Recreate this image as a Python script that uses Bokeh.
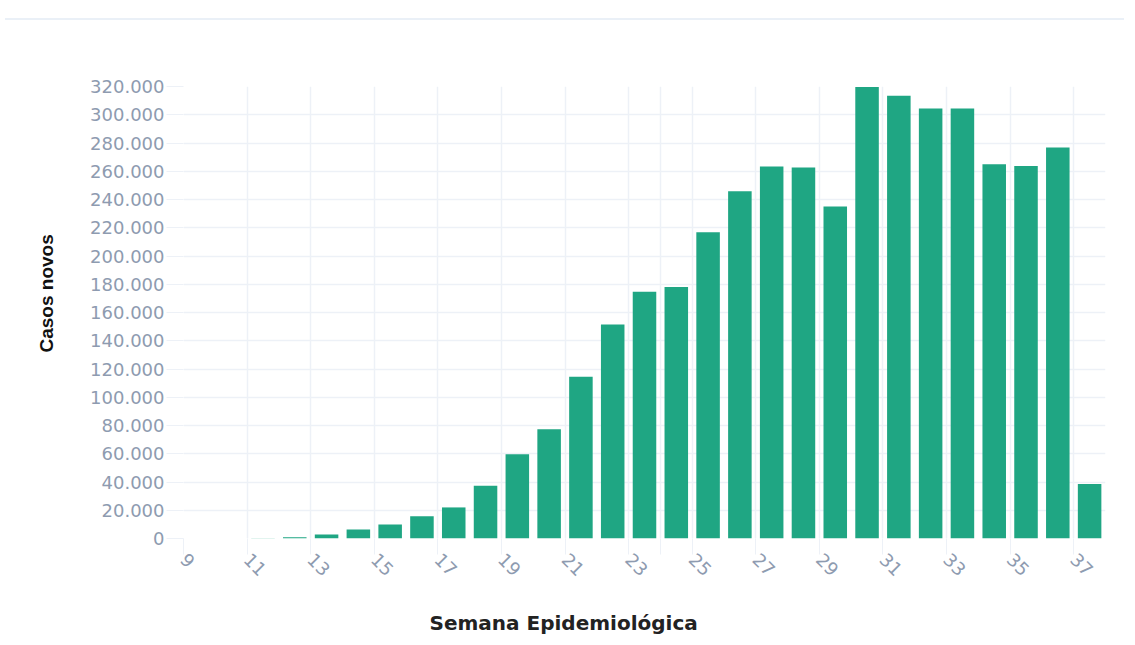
import math
from bokeh.plotting import figure
from bokeh.models import ColumnDataSource, FixedTicker, Title, Div
from bokeh.transform import dodge
from bokeh.layouts import column
from bokeh.embed import file_html
from bokeh.resources import INLINE

# ---- data ----
weeks = list(range(9, 38))
cases = [0, 0, 100, 900, 2800, 6400, 10000, 15800, 22000, 37300,
         59600, 77300, 114600, 151500, 174700, 178000, 216800, 245900,
         263300, 262600, 235000, 319600, 313500, 304500, 304500, 265000,
         263800, 276800, 38500]

x_tick_values = [9, 11, 13, 15, 17, 19, 21, 23, 24, 25, 27, 29, 31, 33, 35, 37]
x_tick_labels = ["9", "11", "13", "15", "17", "19", "21", "23", "", "25",
                 "27", "29", "31", "33", "35", "37"]
y_tick_values = [0, 20000, 40000, 60000, 80000, 100000, 120000, 140000, 160000,
                 180000, 200000, 220000, 240000, 260000, 280000, 300000, 320000]
y_tick_labels = ["0", "20.000", "40.000", "60.000", "80.000", "100.000", "120.000",
                 "140.000", "160.000", "180.000", "200.000", "220.000", "240.000",
                 "260.000", "280.000", "300.000", "320.000"]

x_title = "Semana Epidemiológica"
y_title = "Casos novos"

BAR = "#1fa683"
GRID = "#edf1f7"
TICK_TXT = "#8e9bb0"

src = ColumnDataSource(dict(week=weeks, cases=cases))

p = figure(width=1119, height=612, x_range=(9, 38), y_range=(0, 320000),
           output_backend="svg", toolbar_location=None,
           min_border_left=183, min_border_right=14,
           min_border_top=61, min_border_bottom=99)
p.outline_line_color = None
p.background_fill_color = "white"
p.border_fill_color = "white"

p.vbar(x=dodge("week", 0.5, range=p.x_range), top="cases", width=0.74,
       source=src, fill_color=BAR, line_color=None)

# x axis
p.xaxis.ticker = FixedTicker(ticks=x_tick_values)
p.xaxis.major_label_overrides = {v: l for v, l in zip(x_tick_values, x_tick_labels)}
p.xaxis.major_label_orientation = -math.pi / 4
p.xaxis.major_tick_out = 16
p.xaxis.major_tick_in = 0
p.xaxis.minor_tick_line_color = None
p.xaxis.major_tick_line_color = GRID
p.xaxis.axis_line_color = None
p.xaxis.major_label_text_color = TICK_TXT
p.xaxis.major_label_text_font = "DejaVu Sans"
p.xaxis.major_label_text_font_size = "18px"
p.xaxis.major_label_standoff = 2

# y axis
p.yaxis.ticker = FixedTicker(ticks=y_tick_values)
p.yaxis.major_label_overrides = {v: l for v, l in zip(y_tick_values, y_tick_labels)}
p.yaxis.major_tick_out = 17
p.yaxis.major_tick_in = 0
p.yaxis.minor_tick_line_color = None
p.yaxis.major_tick_line_color = GRID
p.yaxis.axis_line_color = None
p.yaxis.major_label_text_color = TICK_TXT
p.yaxis.major_label_text_font = "DejaVu Sans"
p.yaxis.major_label_text_font_size = "18px"
p.yaxis.major_label_standoff = 2

p.xgrid.grid_line_color = GRID
p.ygrid.grid_line_color = GRID
p.xgrid.grid_line_width = 1.5
p.ygrid.grid_line_width = 1.5

# axis titles
p.add_layout(Title(text="\n" + x_title, align="left", offset=246, standoff=0,
                   text_font="DejaVu Sans", text_font_style="bold",
                   text_font_size="20px", text_color="#222222"), "below")
p.add_layout(Title(text=y_title, align="left", offset=186, standoff=61,
                   text_font="Liberation Sans", text_font_style="bold",
                   text_font_size="19px", text_color="#111111"), "left")

top = Div(text="", width=1119, height=15,
          styles={"border-bottom": "2px solid #eaf0f7"})

layout = column(top, p, spacing=0)
open("out.html", "w").write(file_html(layout, INLINE))
